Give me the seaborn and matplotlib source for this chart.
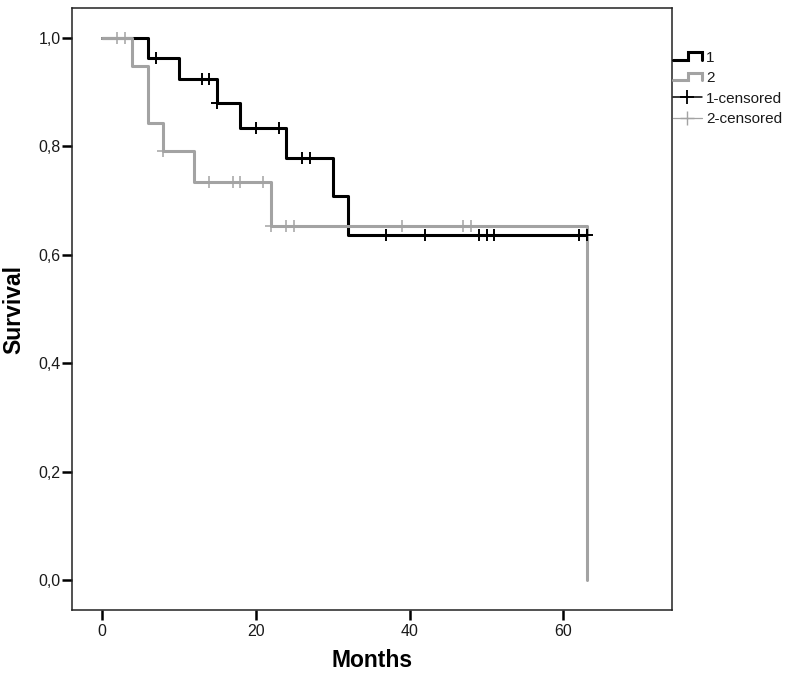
import numpy as np
import pandas as pd
import matplotlib
matplotlib.use("Agg")
import matplotlib.pyplot as plt
import seaborn as sns
from matplotlib.lines import Line2D
from matplotlib.legend_handler import HandlerBase

# ---------------- data ----------------
group_names = ["1", "2"]

# group 1: step times (months) and survival after each step, last point = end of follow-up
g1_times = [0, 6, 10, 15, 18, 24, 30, 32, 63]
g1_surv = [1.0, 0.962, 0.923, 0.880, 0.833, 0.778, 0.707, 0.636, 0.636]
g1_censored = [7, 13, 14, 15, 20, 23, 26, 27, 37, 42, 49, 50, 51, 62, 63]

# group 2
g2_times = [0, 4, 6, 8, 12, 22, 63]
g2_surv = [1.0, 0.947, 0.842, 0.790, 0.734, 0.652, 0.0]
g2_censored = [2, 3, 8, 14, 17, 18, 21, 22, 24, 25, 39, 47, 48]

x_ticks = [0, 20, 40, 60]
x_tick_labels = ["0", "20", "40", "60"]
y_ticks = [0.0, 0.2, 0.4, 0.6, 0.8, 1.0]
y_tick_labels = ["0,0", "0,2", "0,4", "0,6", "0,8", "1,0"]

legend_labels = ["1", "2", "1-censored", "2-censored"]

# ---------------- styling ----------------
sns.set_theme(style="white")
plt.rcParams["font.family"] = ["Liberation Sans", "DejaVu Sans"]

BLACK = "#000000"
GREY = "#a3a3a3"


def surv_at(times, surv, t):
    idx = np.searchsorted(np.array(times), t, side="right") - 1
    return surv[idx]


curve_df = pd.concat([
    pd.DataFrame({"Months": g1_times, "Survival": g1_surv, "group": "1"}),
    pd.DataFrame({"Months": g2_times, "Survival": g2_surv, "group": "2"}),
], ignore_index=True)

cens1 = pd.DataFrame({"Months": g1_censored,
                      "Survival": [surv_at(g1_times[:-1], g1_surv[:-1], t) for t in g1_censored]})
cens2 = pd.DataFrame({"Months": g2_censored,
                      "Survival": [surv_at(g2_times[:-1], g2_surv[:-1], t) for t in g2_censored]})

fig = plt.figure(figsize=(7.88, 6.77), dpi=100)
ax = fig.add_axes([71.7 / 788, 1 - 610 / 677, (672 - 71.7) / 788, (610 - 8) / 677])

LW = 2.2
sns.lineplot(data=curve_df[curve_df.group == "1"], x="Months", y="Survival",
             drawstyle="steps-post", estimator=None, sort=False,
             color=BLACK, linewidth=LW, ax=ax, legend=False)
sns.lineplot(data=curve_df[curve_df.group == "2"], x="Months", y="Survival",
             drawstyle="steps-post", estimator=None, sort=False,
             color=GREY, linewidth=LW, ax=ax, legend=False)
sns.scatterplot(data=cens2, x="Months", y="Survival", marker="+", s=80,
                color=GREY, linewidth=1.1, ax=ax, legend=False, zorder=4)
sns.scatterplot(data=cens1, x="Months", y="Survival", marker="+", s=80,
                color=BLACK, linewidth=1.4, ax=ax, legend=False, zorder=5)

ax.set_xlim(-3.9, 74.1)
ax.set_ylim(-0.0553, 1.0544)
ax.set_xticks(x_ticks)
ax.set_xticklabels(x_tick_labels)
ax.set_yticks(y_ticks)
ax.set_yticklabels(y_tick_labels)
ax.tick_params(axis="both", which="major", bottom=True, left=True,
               direction="out", length=7, width=1.8, color="black",
               labelsize=11.5, labelcolor="#1a1a1a", pad=1.0)
ax.tick_params(axis="x", pad=3)
for sp in ax.spines.values():
    sp.set_visible(True)
    sp.set_color("#222222")
    sp.set_linewidth(1.1)

ax.set_xlabel("Months", fontsize=16.5, fontweight="bold", color="black")
ax.set_ylabel("Survival", fontsize=16.5, fontweight="bold", color="black")
ax.xaxis.set_label_coords(0.5, -0.065)
ax.yaxis.set_label_coords(-0.078, 0.5)


class StepHandler(HandlerBase):
    def __init__(self, color, lw):
        super().__init__()
        self.color = color
        self.lw = lw

    def create_artists(self, legend, orig_handle, xdescent, ydescent, width,
                       height, fontsize, trans):
        x0 = -xdescent
        lo = -ydescent + 0.2 * height
        hi = -ydescent + 0.9 * height
        xs = [x0, x0 + 0.54 * width, x0 + 0.54 * width, x0 + width, x0 + width]
        ys = [lo, lo, hi, hi, lo]
        ln = Line2D(xs, ys, color=self.color, lw=self.lw, transform=trans,
                    solid_joinstyle="miter")
        return [ln]


h1 = Line2D([], [], color=BLACK)
h2 = Line2D([], [], color=GREY)
h3 = Line2D([], [], color=BLACK, lw=1.1, marker="+", markersize=10, markeredgewidth=1.3)
h4 = Line2D([], [], color=GREY, lw=0.9, marker="+", markersize=10, markeredgewidth=1.0)

fig.legend([h1, h2, h3, h4], legend_labels,
           handler_map={h1: StepHandler(BLACK, LW), h2: StepHandler(GREY, LW)},
           loc="upper left", bbox_to_anchor=(672.5 / 788, 1 - 51 / 677),
           frameon=False, fontsize=11, handlelength=1.9, handletextpad=0.3,
           labelspacing=0.42, borderpad=0, borderaxespad=0,
           labelcolor="#1a1a1a")

fig.savefig("out.png", dpi=100)
